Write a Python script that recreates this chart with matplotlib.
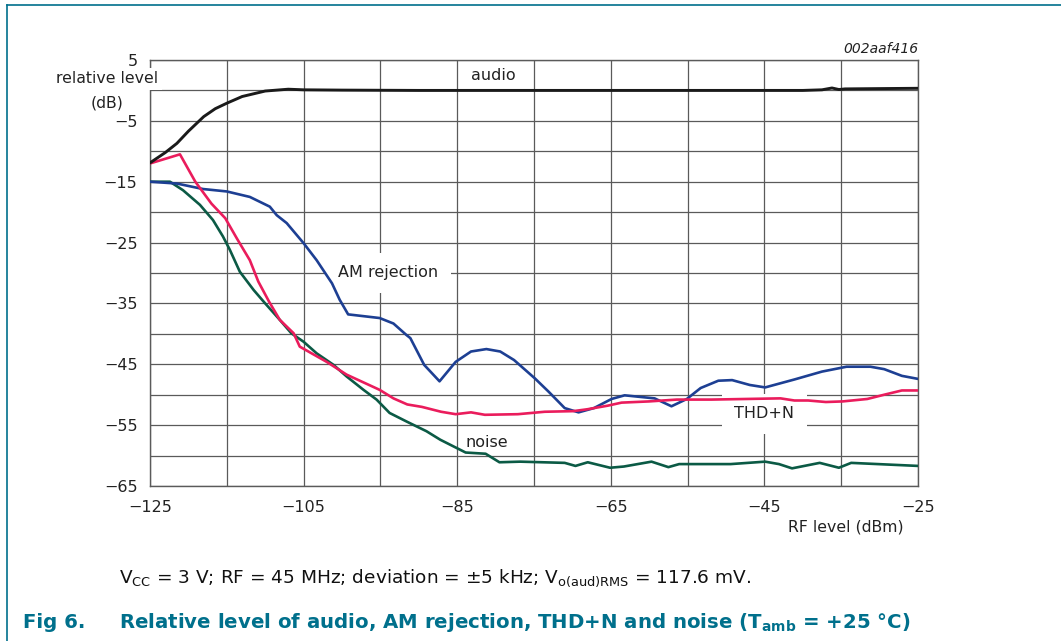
import numpy as np
import matplotlib
matplotlib.use("Agg")
import matplotlib.pyplot as plt
from matplotlib.lines import Line2D

plt.rcParams['font.family'] = ['DejaVu Sans']
plt.rcParams['mathtext.fontset'] = 'dejavusans'

# data (RF level in dBm, relative level in dB)
audio_x = [-125, -123, -121.5, -120, -118, -116.5, -115, -113, -110, -107, -105,
           -100, -90, -80, -70, -60, -50, -40, -37.5, -36.2, -35.3, -34.5, -30, -25]
audio_y = [-11.9, -10.2, -8.7, -6.7, -4.3, -3.0, -2.1, -1.0, -0.1, 0.2, 0.1,
           0.05, 0, 0, 0, 0, 0, 0, 0.1, 0.4, 0.15, 0.25, 0.3, 0.35]

am_x = [-125, -121.5, -118.1, -115, -112, -109.4, -108.5, -107.2, -105, -103.3,
        -101.3, -100.3, -99.2, -95.1, -93.3, -91.6, -91.1, -89.3, -87.3, -85.2,
        -83.2, -81.2, -79.4, -77.6, -74.9, -73.1, -71.0, -69.2, -67.2, -64.9,
        -63.2, -59.3, -57.1, -55.1, -53.3, -51.0, -49.2, -46.9, -44.9, -41.1,
        -37.5, -34.3, -31.2, -29.4, -27.1, -25]
am_y = [-15.0, -15.3, -16.2, -16.6, -17.5, -19.1, -20.5, -21.8, -25.1, -27.9,
        -31.7, -34.4, -36.8, -37.4, -38.3, -40.2, -40.7, -45.1, -47.8, -44.6,
        -42.9, -42.5, -42.9, -44.3, -47.3, -49.5, -52.2, -52.9, -52.2, -50.7,
        -50.1, -50.6, -51.9, -50.7, -48.9, -47.7, -47.6, -48.4, -48.8, -47.5,
        -46.2, -45.4, -45.4, -45.8, -46.9, -47.4]

thd_x = [-125, -121.1, -119.1, -117.0, -115.2, -113.7, -112.0, -110.9, -109.5,
         -108.1, -106.3, -105.5, -102.0, -99.4, -95.1, -93.3, -91.5, -89.6,
         -87.1, -85.2, -83.2, -81.4, -77.1, -73.6, -69.9, -68.1, -65.4, -63.6,
         -60.0, -56.4, -51.9, -47.4, -42.9, -41.1, -39.3, -37.0, -34.8, -31.6,
         -29.4, -27.1, -25]
thd_y = [-12.0, -10.5, -15.0, -18.6, -21.0, -24.3, -27.9, -31.4, -34.7,
         -37.7, -39.9, -42.1, -44.6, -46.7, -49.2, -50.6, -51.6, -52.0,
         -52.8, -53.2, -52.9, -53.3, -53.2, -52.8, -52.7, -52.4, -51.8, -51.3,
         -51.1, -50.8, -50.8, -50.7, -50.6, -50.95, -50.95, -51.2, -51.1, -50.7,
         -50.0, -49.3, -49.3]

noise_x = [-125, -122.4, -120.7, -118.5, -116.8, -115.5, -114.6, -113.3, -111.5,
           -110.0, -108.1, -106.6, -105.0, -103.3, -101.1, -99.4, -97.2, -95.5,
           -93.8, -91.6, -89.0, -87.2, -83.9, -81.3, -79.5, -76.8, -71.0, -69.6,
           -68.0, -65.1, -63.3, -59.7, -57.5, -56.1, -49.4, -44.9, -43.1, -41.4,
           -37.8, -35.3, -33.7, -25]
noise_y = [-15.0, -15.0, -16.4, -18.8, -21.3, -24.0, -26.2, -29.8, -32.8,
           -35.0, -37.7, -39.9, -41.3, -43.2, -45.1, -47.0, -49.2, -50.8,
           -53.0, -54.4, -56.0, -57.4, -59.5, -59.7, -61.1, -61.0, -61.2, -61.7,
           -61.1, -62.0, -61.8, -61.0, -61.9, -61.4, -61.4, -61.0, -61.4, -62.1,
           -61.2, -62.0, -61.2, -61.7]

x_ticks = [-125, -105, -85, -65, -45, -25]
y_ticks = [5, -5, -15, -25, -35, -45, -55, -65]

teal = '#00708c'
grid_col = '#5a5a5a'
txt = '#222222'

fig = plt.figure(figsize=(10.61, 6.41), dpi=100)
ax = fig.add_axes([150 / 1061, 1 - 486 / 641, 768 / 1061, 426 / 641])

ax.plot(audio_x, audio_y, color='#1a1a1a', lw=2.1, zorder=5)
ax.plot(am_x, am_y, color='#1d3f93', lw=1.9, zorder=4)
ax.plot(thd_x, thd_y, color='#ea1c5c', lw=1.9, zorder=4)
ax.plot(noise_x, noise_y, color='#0b5a45', lw=1.9, zorder=3)

ax.set_xlim(-125, -25)
ax.set_ylim(-65, 5)
ax.set_xticks(x_ticks)
ax.set_xticks(np.arange(-125, -24, 10), minor=True)
ax.set_yticks(y_ticks)
ax.set_yticks(np.arange(-65, 6, 5), minor=True)
ax.set_xticklabels([f'\u2212{abs(v)}' for v in x_ticks])
ax.set_yticklabels([str(v) if v > 0 else f'\u2212{abs(v)}' for v in y_ticks])
ax.tick_params(which='both', length=0, labelsize=11.5, colors=txt)
ax.tick_params(axis='y', pad=9)
ax.tick_params(axis='x', pad=10)
ax.grid(which='both', color=grid_col, lw=0.9)
ax.set_axisbelow(True)
for s in ax.spines.values():
    s.set_color(grid_col)
    s.set_linewidth(1.0)

# axis titles
ax.text(-130.6, 1.9, 'relative level', ha='center', va='center', fontsize=11.3,
        color=txt, clip_on=False, zorder=6,
        bbox=dict(facecolor='white', edgecolor='none', pad=2.5))
ax.text(-130.6, -2.0, '(dB)', ha='center', va='center', fontsize=11.3,
        color=txt, clip_on=False)
ax.text(-26.9, -71.8, 'RF level (dBm)', ha='right', va='center', fontsize=11.3,
        color=txt, clip_on=False)
ax.text(-25, 6.8, '002aaf416', ha='right', va='center', fontsize=10,
        style='italic', color=txt, clip_on=False)

# curve labels
box = dict(facecolor='white', edgecolor='none', pad=9)
ax.text(-80.3, 2.4, 'audio', ha='center', va='center', fontsize=11.5, color=txt)
ax.text(-94.0, -30.0, 'AM rejection', ha='center', va='center', fontsize=11.5,
        color=txt, bbox=box, zorder=2.5)
ax.text(-45.0, -53.1, 'THD+N', ha='center', va='center', fontsize=11.5,
        color=txt, bbox=box, zorder=2.5)
ax.text(-81.2, -57.8, 'noise', ha='center', va='center', fontsize=11.5, color=txt)

# frame on the page
fig.add_artist(Line2D([7 / 1061, 1], [1 - 5 / 641, 1 - 5 / 641], color=teal, lw=1.2))
fig.add_artist(Line2D([7 / 1061, 7 / 1061], [0, 1 - 5 / 641], color=teal, lw=1.2))

fig.text(119 / 1061, 1 - 578 / 641,
         r'V$_{\mathrm{CC}}$ = 3 V; RF = 45 MHz; deviation = $\pm$5 kHz; '
         r'V$_{\mathrm{o(aud)RMS}}$ = 117.6 mV.',
         ha='left', va='center', fontsize=13.3, color='#111111')
fig.text(23 / 1061, 1 - 623 / 641, 'Fig 6.', ha='left', va='center',
         fontsize=14.2, fontweight='bold', color=teal)
fig.text(119 / 1061, 1 - 623 / 641,
         r'Relative level of audio, AM rejection, THD+N and noise (T$_{\mathbf{amb}}$ = +25 °C)',
         ha='left', va='center', fontsize=14.2, fontweight='bold', color=teal)

fig.savefig('out.png', dpi=100)
